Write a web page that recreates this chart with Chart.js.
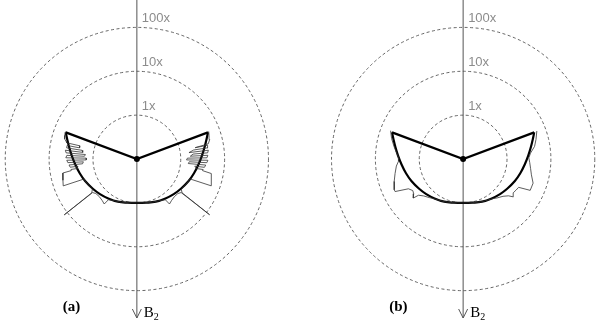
<!DOCTYPE html>
<html><head><meta charset="utf-8">
<script src="https://cdn.jsdelivr.net/npm/chart.js@4.4.1/dist/chart.umd.min.js"></script>
<style>
html,body{margin:0;padding:0;background:#fff;}
#wrap{position:relative;width:600px;height:320px;overflow:hidden;}
canvas{position:absolute;top:0;}
#ca{left:0;} #cb{left:300px;}
</style></head><body>
<div id="wrap"><canvas id="ca" width="300" height="320"></canvas><canvas id="cb" width="300" height="320"></canvas></div>
<script>
// ---- data (angle in degrees measured from the B2 direction, magnification) ----
const ringValues = [1, 10, 100];
const ringLabels = ['1x', '10x', '100x'];
const panelLabels = ['(a)', '(b)'];
const axisLabel = 'B';
const axisSub = '2';
const centerMag = 0.1;

// bold analytic curve (same in both panels)
const boldAngles = [-110.5,-106,-100,-93,-85,-76,-67,-56,-46.5,-36,-24,-12,0,12,24,36,46.5,56,67,76,85,93,100,106,110.5];
const boldMag    = [5.41,4.53,3.72,3.08,2.58,2.21,1.92,1.63,1.45,1.29,1.16,1.04,1.00,1.04,1.16,1.29,1.45,1.63,1.92,2.21,2.58,3.08,3.72,4.53,5.41];
// the two straight edges from the centre to the corners
const edgeAngles = [-110.5, 0, 110.5];
const edgeMag    = [5.41, 0.1, 5.41];

// panel (a) thin curve
const thinAAngles = [-111,-108,-105.5,-104,
                     -103,-103,-101,-101,-99,-99,-97,-97,-95,-95,-93,-93,-91,-91,-89,-89,-87,-87,-85,-85,-83,-83,-81,-81,-80,
                     -79.3,-74,-70,-69.3,-66,-62,-58,-55.5,-53.2,-52.5,-52.9,-50,-45,-40,-36,-35,-30,-20,-10,0,
                     10,20,30,35,36,40,45,50,52.9,52.6,53.3,55.5,58,62,66,69.5,70.2,74,79,
                     80,81,81,83,83,85,85,87,87,89,89,91,91,93,93,95,95,97,97,99,99,101,101,102,105,108,111];
const thinAMag    = [5.55,5.41,5.14,4.64,
                     4.41,2.15,2.15,4.19,4.19,1.85,1.76,4.41,4.19,1.51,1.58,3.98,4.19,1.43,1.43,3.98,3.78,1.67,1.76,3.59,3.41,2.27,2.39,3.33,3.33,
                     5.27,5.70,6.15,1.94,1.90,1.80,1.71,1.71,1.94,12.3,1.85,1.67,1.63,1.71,1.85,1.36,1.23,1.11,1.03,1.00,
                     1.03,1.11,1.23,1.36,1.85,1.71,1.63,1.67,1.85,12.3,1.94,1.71,1.71,1.80,1.90,1.94,6.31,5.84,5.41,
                     3.33,3.41,2.39,2.15,3.59,3.78,1.51,1.58,3.98,4.19,1.36,1.43,3.98,4.19,1.67,1.94,4.19,4.41,1.58,2.05,4.41,4.41,2.27,4.64,5.27,5.41,5.70];

// panel (b) thin curve
const thinBAngles = [-111.3,-106,-100,-95,-91,-88,-84,-78,-72,-66,-64.5,-61.5,-58,-55,-52,-51,-47,-41,-36,-24,-12,0,
                     12,24,36,41,47,51,53,56,59.5,63,65,71,77,82,87,91,95,100,105,110.8];
const thinBMag    = [5.99,5.01,3.98,3.33,2.93,3.00,3.41,3.88,4.52,5.27,5.27,2.64,2.27,2.39,2.78,2.05,1.71,1.47,1.32,1.16,1.04,1.00,
                     1.04,1.16,1.32,1.50,1.76,2.15,2.71,2.39,2.51,2.64,4.89,4.89,3.98,3.59,3.33,3.16,3.50,4.53,5.27,6.31];

// ---- helpers ----
function toXY(a, m) {
  const r = Math.log10(m) - Math.log10(centerMag);
  const t = a * Math.PI / 180;
  return { x: r * Math.sin(t), y: -r * Math.cos(t) };
}
function series(angles, mags) { return angles.map((a, i) => toXY(a, mags[i])); }

const PX = 45; // pixels per decade
function makeChart(id, thinA, thinM, centerPx, label) {
  const grid = {
    id: 'polarGrid',
    beforeDatasetsDraw(chart) {
      const ctx = chart.ctx, xs = chart.scales.x, ys = chart.scales.y;
      const cx = xs.getPixelForValue(0), cy = ys.getPixelForValue(0);
      ctx.save();
      ctx.strokeStyle = '#555'; ctx.lineWidth = 0.9; ctx.setLineDash([3, 2.5]);
      ringValues.forEach((v, i) => {
        const r = cy - ys.getPixelForValue(Math.log10(v / centerMag));
        ctx.beginPath(); ctx.arc(cx, cy, r, 0, Math.PI * 2); ctx.stroke();
        ctx.save(); ctx.setLineDash([]);
        ctx.fillStyle = '#8c8c8c'; ctx.font = '13px "Liberation Sans", Arial, sans-serif';
        ctx.textBaseline = 'alphabetic'; ctx.textAlign = 'left';
        ctx.fillText(ringLabels[i], cx + 5, cy - r - 5);
        ctx.restore();
      });
      ctx.setLineDash([]);
      ctx.strokeStyle = '#555'; ctx.lineWidth = 1;
      const h = chart.height;
      ctx.beginPath(); ctx.moveTo(cx, 0); ctx.lineTo(cx, h - 2); ctx.stroke();
      ctx.beginPath(); ctx.moveTo(cx - 4.5, h - 11); ctx.lineTo(cx, h - 2); ctx.lineTo(cx + 4.5, h - 11); ctx.stroke();
      ctx.fillStyle = '#000';
      ctx.font = 'bold 15px "Liberation Serif", "Times New Roman", serif';
      ctx.fillText(label, cx - 74, h - 9);
      ctx.font = '15px "Liberation Serif", "Times New Roman", serif';
      ctx.fillText(axisLabel, cx + 7, h - 3.5);
      const bw = ctx.measureText(axisLabel).width;
      ctx.font = '10px "Liberation Serif", "Times New Roman", serif';
      ctx.fillText(axisSub, cx + 7 + bw, h - 0.5);
      ctx.restore();
    }
  };
  const W = 300, H = 320, cyPx = 159;
  return new Chart(document.getElementById(id), {
    type: 'scatter',
    data: { datasets: [
      { data: series(thinA, thinM), showLine: true, borderColor: '#333', borderWidth: 0.8, pointRadius: 0, tension: 0 },
      { data: series(boldAngles, boldMag), showLine: true, borderColor: '#000', borderWidth: 2.2, pointRadius: 0, tension: 0.4 },
      { data: series(edgeAngles, edgeMag), showLine: true, borderColor: '#000', borderWidth: 2.2, pointRadius: 0, tension: 0 },
      { data: [toXY(0, centerMag)], pointRadius: 3, backgroundColor: '#000', borderWidth: 0 }
    ]},
    options: {
      responsive: false, animation: false, events: [],
      layout: { padding: 0 },
      plugins: { legend: { display: false }, tooltip: { enabled: false } },
      scales: {
        x: { type: 'linear', display: false, min: -centerPx / PX, max: (W - centerPx) / PX },
        y: { type: 'linear', display: false, min: -(H - cyPx) / PX, max: cyPx / PX }
      }
    },
    plugins: [grid]
  });
}
makeChart('ca', thinAAngles, thinAMag, 136.5, panelLabels[0]);
makeChart('cb', thinBAngles, thinBMag, 163.5, panelLabels[1]);
</script>
</body></html>
